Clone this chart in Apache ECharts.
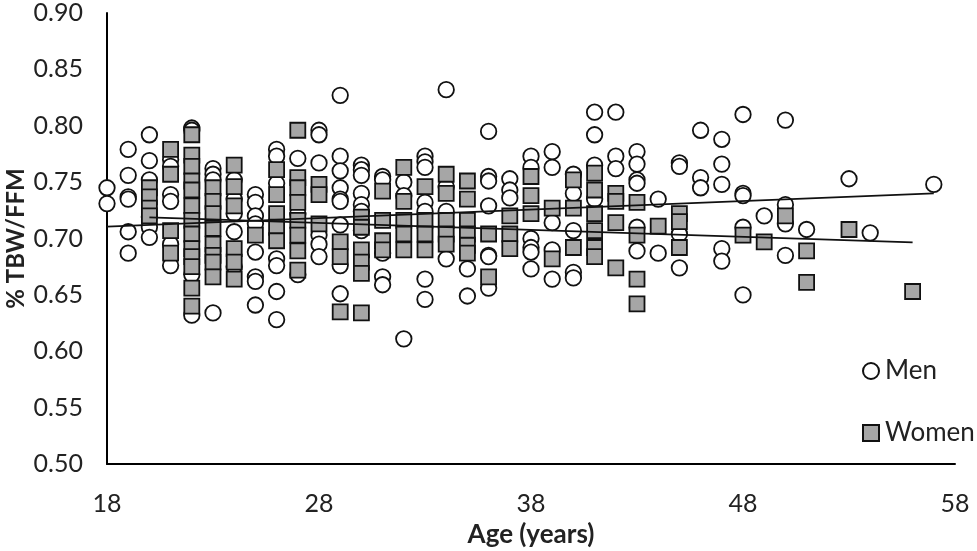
<!DOCTYPE html>
<html><head><meta charset="utf-8">
<style>html,body{margin:0;padding:0;background:#fff}#c{width:977px;height:551px}</style>
<script src="https://cdn.jsdelivr.net/npm/echarts@6/dist/echarts.min.js"></script>
</head><body><div id="c"></div>
<script>
const menPoints = [
[18,.745],[18,.731],
[19,.779],[19,.756],[19,.737],[19,.735],[19,.706],[19,.687],
[20,.792],[20,.769],[20,.752],[20,.719],[20,.710],[20,.701],
[21,.770],[21,.764],[21,.739],[21,.733],[21,.695],[21,.676],
[22,.798],[22,.796],[22,.668],[22,.632],
[23,.762],[23,.757],[23,.752],[23,.634],
[24,.752],[24,.735],[24,.722],[24,.706],[24,.675],
[25,.739],[25,.732],[25,.720],[25,.713],[25,.688],[25,.666],[25,.662],[25,.641],
[26,.779],[26,.773],[26,.749],[26,.682],[26,.676],[26,.653],[26,.628],
[27,.771],[27,.722],[27,.668],
[28,.796],[28,.792],[28,.767],[28,.703],[28,.695],[28,.684],
[29,.827],[29,.773],[29,.760],[29,.745],[29,.735],[29,.733],[29,.712],[29,.676],[29,.651],
[30,.765],[30,.761],[30,.756],[30,.740],[30,.730],[30,.724],[30,.707],
[31,.755],[31,.752],[31,.687],[31,.666],[31,.659],
[32,.750],[32,.738],[32,.611],
[33,.773],[33,.768],[33,.763],[33,.732],[33,.724],[33,.664],[33,.646],
[34,.832],[34,.746],[34,.724],[34,.682],
[35,.673],[35,.649],
[36,.795],[36,.755],[36,.751],[36,.729],[36,.685],[36,.684],[36,.656],
[37,.753],[37,.743],[37,.736],
[38,.773],[38,.763],[38,.700],[38,.692],[38,.688],[38,.673],
[39,.777],[39,.763],[39,.714],[39,.690],[39,.664],
[40,.757],[40,.740],[40,.707],[40,.670],[40,.665],
[41,.812],[41,.792],[41,.765],[41,.735],
[42,.812],[42,.773],[42,.762],
[43,.777],[43,.766],[43,.752],[43,.749],[43,.710],[43,.689],
[44,.735],[44,.687],
[45,.767],[45,.764],[45,.704],[45,.674],
[46,.796],[46,.754],[46,.745],
[47,.788],[47,.766],[47,.748],[47,.691],[47,.680],
[48,.810],[48,.740],[48,.738],[48,.710],[48,.650],
[49,.720],
[50,.805],[50,.730],[50,.713],[50,.685],
[51,.708],
[53,.753],
[54,.705],
[57,.748]
];
const womenPoints = [
[20,.745],[20,.737],[20,.727],[20,.720],
[21,.779],[21,.757],[21,.707],[21,.687],
[22,.792],[22,.774],[22,.764],[22,.751],[22,.743],[22,.729],[22,.716],[22,.704],[22,.691],[22,.684],[22,.675],[22,.656],[22,.640],
[23,.745],[23,.733],[23,.722],[23,.709],[23,.695],[23,.685],[23,.679],[23,.666],
[24,.765],[24,.746],[24,.729],[24,.691],[24,.679],[24,.664],
[25,.703],
[26,.761],[26,.739],[26,.722],[26,.710],[26,.698],
[27,.796],[27,.754],[27,.745],[27,.732],[27,.716],[27,.703],[27,.689],[27,.672],
[28,.748],[28,.739],[28,.713],
[29,.697],[29,.684],[29,.635],
[30,.719],[30,.710],[30,.690],[30,.679],[30,.669],[30,.634],
[31,.742],[31,.716],[31,.698],[31,.690],
[32,.763],[32,.733],[32,.716],[32,.704],[32,.690],
[33,.746],[33,.716],[33,.704],[33,.690],
[34,.757],[34,.740],[34,.716],[34,.704],[34,.695],
[35,.751],[35,.735],[35,.716],[35,.704],[35,.694],[35,.687],
[36,.704],[36,.666],
[37,.720],[37,.704],[37,.691],
[38,.755],[38,.738],[38,.722],
[39,.727],[39,.682],
[40,.752],[40,.727],[40,.692],
[41,.758],[41,.743],[41,.722],[41,.707],[41,.692],[41,.684],
[42,.740],[42,.733],[42,.714],[42,.674],
[43,.732],[43,.703],[43,.664],[43,.642],
[44,.711],
[45,.722],[45,.715],[45,.692],
[48,.703],
[49,.697],
[50,.720],
[51,.689],[51,.661],
[53,.708],
[56,.653]
];
const menTrend = [[18,.7105],[57,.740]];
const womenTrend = [[20,.7188],[56,.6965]];
const xTicks = {min:18,max:58,interval:10};
const yTicks = {min:0.5,max:0.9,interval:0.05};
const F = 'Lato';
const chart = echarts.init(document.getElementById('c'),null,{renderer:'canvas'});
const lineStyle = {color:'#000',width:2};
const trend = d => ({type:'line',data:d,symbol:'none',lineStyle:{color:'#111',width:1.8},silent:true,z:5,animation:false});
chart.setOption({
  animation:false,
  backgroundColor:'#fff',
  textStyle:{fontFamily:F},
  grid:{left:107,right:22,top:13,bottom:87,containLabel:false,outerBoundsMode:'none'},
  xAxis:{type:'value',...xTicks,name:'Age (years)',nameLocation:'middle',nameGap:58,nameMoveOverlap:false,
    nameTextStyle:{fontFamily:F,fontWeight:'bold',fontSize:26,color:'#222'},
    axisLine:{onZero:false,lineStyle},axisTick:{show:false},splitLine:{show:false},
    axisLabel:{margin:27,fontSize:25,color:'#222',fontFamily:F,showMaxLabel:true,showMinLabel:true}},
  yAxis:{type:'value',...yTicks,name:'% TBW/FFM',nameLocation:'middle',nameGap:79,nameMoveOverlap:false,
    nameTextStyle:{fontFamily:F,fontWeight:'bold',fontSize:24,color:'#222'},
    axisLine:{onZero:false,lineStyle},axisTick:{show:false},splitLine:{show:false},
    axisLabel:{margin:24,fontSize:25,color:'#222',fontFamily:F,formatter:v=>v.toFixed(2),showMaxLabel:true,showMinLabel:true}},
  legend:{orient:'vertical',left:862,top:358,padding:0,itemGap:36,itemWidth:16,itemHeight:16,
    data:[{name:'Men',icon:'circle'},{name:'Women',icon:'rect'}],
    textStyle:{fontFamily:F,fontSize:26,color:'#222',padding:[0,0,0,1]}},
  series:[
    {name:'Men',type:'scatter',data:menPoints,symbol:'circle',symbolSize:15.5,z:2,
     itemStyle:{color:'#fff',borderColor:'#111',borderWidth:1.8,opacity:1}},
    {name:'Women',type:'scatter',data:womenPoints,symbol:'rect',symbolSize:15,z:3,
     itemStyle:{color:'#a6a6a6',borderColor:'#111',borderWidth:1.8,opacity:1}},
    trend(menTrend),trend(womenTrend)
  ]
});
</script></body></html>
